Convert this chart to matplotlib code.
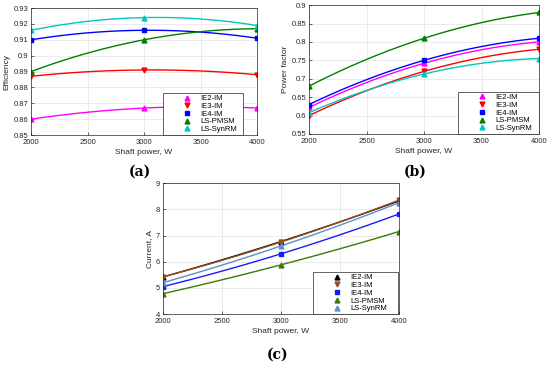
import numpy as np
import matplotlib
matplotlib.use('Agg')
import matplotlib.pyplot as plt

plt.rcParams['font.family'] = ['Liberation Sans', 'DejaVu Sans']

power = [2000, 3000, 4000]
names = ['IE2-IM', 'IE3-IM', 'IE4-IM', 'LS-PMSM', 'LS-SynRM']

# efficiency
eff_ie2 = [0.860, 0.867, 0.867]
eff_ie3 = [0.887, 0.891, 0.888]
eff_ie4 = [0.910, 0.916, 0.911]
eff_pmsm = [0.890, 0.910, 0.917]
eff_synrm = [0.916, 0.924, 0.919]

# power factor
pf_ie2 = [0.622, 0.742, 0.800]
pf_ie3 = [0.600, 0.720, 0.780]
pf_ie4 = [0.630, 0.750, 0.810]
pf_pmsm = [0.680, 0.810, 0.880]
pf_synrm = [0.608, 0.713, 0.755]

# current
cur_ie2 = [5.42, 6.77, 8.32]
cur_ie3 = [5.42, 6.75, 8.35]
cur_ie4 = [5.05, 6.30, 7.82]
cur_pmsm = [4.78, 5.88, 7.15]
cur_synrm = [5.20, 6.60, 8.25]

markers = ['^', 'v', 's', '^', '^']
colors_ab = ['#ff00ff', '#ff0000', '#0000ff', '#008000', '#00c8c0']
colors_c = ['#000000', '#9a4e22', '#1a1aff', '#3d7a0a', '#5a8fd0']

edge = '#262626'


def draw(ax, series, colors, ylim, yticks, ylabel, leg_box):
    xs = np.linspace(power[0], power[-1], 100)
    for y, c, m, n in zip(series, colors, markers, names):
        p = np.polyfit(power, y, 2)
        ax.plot(xs, np.polyval(p, xs), color=c, lw=1.0)
        ax.plot(power, y, linestyle='none', marker=m, color=c, ms=3.5, label=n)
    ax.set_xlim(2000, 4000)
    ax.set_xticks([2000, 2500, 3000, 3500, 4000])
    ax.set_ylim(*ylim)
    ax.set_yticks(yticks)
    ax.set_yticklabels(['%g' % t for t in yticks])
    ax.grid(True, color='#e3e3e3', lw=0.5)
    ax.set_axisbelow(True)
    for s in ax.spines.values():
        s.set_color(edge)
        s.set_linewidth(0.5)
    ax.tick_params(direction='in', length=2, width=0.5, labelsize=5.5, colors=edge)
    ax.tick_params(axis='x', pad=3)
    ax.tick_params(axis='y', pad=2)
    ax.set_xlabel('Shaft power, W', fontsize=6, color=edge, labelpad=2)
    ax.set_ylabel(ylabel, fontsize=6, color=edge, labelpad=2)
    leg = ax.legend(loc='lower left', bbox_to_anchor=leg_box, mode='expand',
                    borderaxespad=0, fontsize=5.5, handlelength=5.8, handletextpad=-1.16,
                    borderpad=0.25, labelspacing=0.05, fancybox=False, framealpha=1,
                    numpoints=1)
    leg.get_frame().set_edgecolor(edge)
    leg.get_frame().set_linewidth(0.5)


fig = plt.figure(figsize=(5.5, 3.67), dpi=100)
ax1 = fig.add_axes([0.0564, 0.632, 0.411, 0.346])
ax2 = fig.add_axes([0.562, 0.635, 0.418, 0.351])
ax3 = fig.add_axes([0.296, 0.144, 0.429, 0.357])

draw(ax1, [eff_ie2, eff_ie3, eff_ie4, eff_pmsm, eff_synrm], colors_ab,
     (0.85, 0.93), np.round(np.arange(0.85, 0.935, 0.01), 2), 'Efficiency',
     (0.584, 0.0, 0.354, 0.36))
draw(ax2, [pf_ie2, pf_ie3, pf_ie4, pf_pmsm, pf_synrm], colors_ab,
     (0.55, 0.9), np.round(np.arange(0.55, 0.905, 0.05), 2), 'Power factor',
     (0.648, 0.0, 0.352, 0.36))
draw(ax3, [cur_ie2, cur_ie3, cur_ie4, cur_pmsm, cur_synrm], colors_c,
     (4, 9), [4, 5, 6, 7, 8, 9], 'Current, A',
     (0.636, 0.0, 0.36, 0.36))

lab = dict(fontsize=10, fontweight='bold', family='DejaVu Serif', ha='center', va='center')
fig.text(0.255, 0.531, '(a)', **lab)
fig.text(0.755, 0.531, '(b)', **lab)
fig.text(0.504, 0.033, '(c)', **lab)

fig.savefig('out.png', dpi=100)
